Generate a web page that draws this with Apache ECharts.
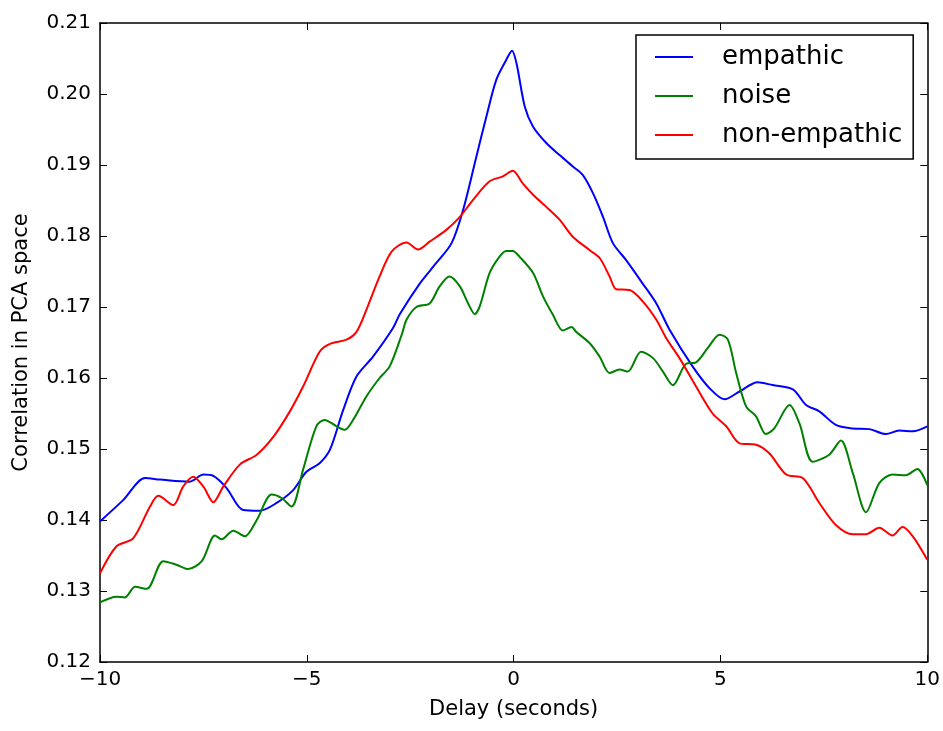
<!DOCTYPE html>
<html>
<head>
<meta charset="utf-8">
<script src="https://cdn.jsdelivr.net/npm/echarts@6/dist/echarts.min.js"></script>
<style>html,body{margin:0;padding:0;background:#fff}#c{width:943px;height:731px}</style>
</head>
<body>
<div id="c"></div>
<script>
const seriesNames = ['empathic', 'noise', 'non-empathic'];
const xTicks = [-10, -5, 0, 5, 10];
const yTicks = [0.12, 0.13, 0.14, 0.15, 0.16, 0.17, 0.18, 0.19, 0.20, 0.21];

const empathic = [
  [-10, 0.1398], [-9.44, 0.1428], [-8.91, 0.1459], [-8.55, 0.1457], [-7.83, 0.1454], [-7.5, 0.1464],
  [-7.26, 0.1462], [-6.94, 0.1445], [-6.54, 0.1414], [-6.14, 0.1413], [-5.73, 0.1424], [-5.33, 0.1442],
  [-5.01, 0.1468], [-4.69, 0.1480], [-4.44, 0.1499], [-4.12, 0.1555], [-3.8, 0.1602], [-3.4, 0.1630],
  [-2.92, 0.1670], [-2.75, 0.1690], [-2.27, 0.1733], [-1.87, 0.1762], [-1.50, 0.1790], [-1.22, 0.1837],
  [-0.90, 0.1912], [-0.66, 0.1968], [-0.42, 0.2020], [-0.18, 0.2048], [-0.04, 0.2061], [0.07, 0.2043],
  [0.27, 0.1982], [0.47, 0.1954], [0.79, 0.1931], [1.11, 0.1914], [1.43, 0.1898], [1.67, 0.1886],
  [1.92, 0.1860], [2.16, 0.1827], [2.40, 0.1790], [2.72, 0.1766], [3.12, 0.1733], [3.45, 0.1705],
  [3.77, 0.1668], [4.33, 0.1616], [4.73, 0.1586], [5.10, 0.1570], [5.46, 0.1581], [5.90, 0.1594],
  [6.26, 0.1590], [6.75, 0.1584], [7.07, 0.1562], [7.39, 0.1553], [7.79, 0.1534], [8.20, 0.1529],
  [8.60, 0.1528], [9.00, 0.1521], [9.32, 0.1526], [9.65, 0.1525], [10, 0.1532]
];

const noise = [
  [-10, 0.1284], [-9.6, 0.1292], [-9.40, 0.1291], [-9.15, 0.1306], [-8.87, 0.1303], [-8.47, 0.1342],
  [-8.15, 0.1337], [-7.87, 0.1331], [-7.54, 0.1342], [-7.22, 0.1378], [-7.06, 0.1373], [-6.78, 0.1385],
  [-6.50, 0.1377], [-6.21, 0.1400], [-5.85, 0.1436], [-5.61, 0.1431], [-5.37, 0.1419], [-5.09, 0.1471],
  [-4.77, 0.1532], [-4.57, 0.1541], [-4.28, 0.1532], [-4.08, 0.1527], [-3.88, 0.1541], [-3.56, 0.1574],
  [-3.24, 0.1600], [-3.0, 0.1616], [-2.7, 0.1662], [-2.59, 0.1682], [-2.35, 0.1700], [-2.03, 0.1705],
  [-1.79, 0.1729], [-1.55, 0.1743], [-1.30, 0.1729], [-1.10, 0.1705], [-0.94, 0.1690], [-0.82, 0.1701],
  [-0.58, 0.1748], [-0.34, 0.1771], [-0.18, 0.1779], [-0.02, 0.1779], [0.14, 0.1771], [0.47, 0.1748],
  [0.71, 0.1715], [0.95, 0.1689], [1.19, 0.1667], [1.40, 0.1672], [1.51, 0.1665], [1.84, 0.1649],
  [2.08, 0.1630], [2.32, 0.1607], [2.56, 0.1612], [2.76, 0.1609], [3.08, 0.1637], [3.37, 0.1628],
  [3.61, 0.1609], [3.85, 0.1590], [4.17, 0.1620], [4.41, 0.1622], [4.69, 0.1642], [4.98, 0.1661],
  [5.18, 0.1654], [5.38, 0.1607], [5.62, 0.1560], [5.86, 0.1546], [6.10, 0.1521], [6.30, 0.1529],
  [6.67, 0.1562], [6.91, 0.1536], [7.23, 0.1482], [7.63, 0.1492], [7.91, 0.1512], [8.20, 0.1466],
  [8.52, 0.1411], [8.84, 0.1452], [9.16, 0.1464], [9.48, 0.1463], [9.76, 0.1472], [10, 0.1449]
];

const nonEmpathic = [
  [-10, 0.1325], [-9.6, 0.1363], [-9.2, 0.1374], [-8.79, 0.1419], [-8.59, 0.1434], [-8.23, 0.1421],
  [-7.99, 0.1447], [-7.75, 0.1461], [-7.5, 0.1447], [-7.26, 0.1425], [-7.02, 0.1447], [-6.62, 0.1478],
  [-6.21, 0.1492], [-5.81, 0.1517], [-5.41, 0.1553], [-5.09, 0.1588], [-4.69, 0.1637], [-4.44, 0.1648],
  [-4.04, 0.1654], [-3.8, 0.1665], [-3.56, 0.1696], [-3.24, 0.1743], [-2.95, 0.1778], [-2.59, 0.1791],
  [-2.31, 0.1781], [-2.03, 0.1792], [-1.62, 0.1809], [-1.30, 0.1827], [-0.98, 0.1851], [-0.58, 0.1877],
  [-0.26, 0.1884], [-0.02, 0.1892], [0.22, 0.1874], [0.47, 0.1858], [0.79, 0.1841], [1.11, 0.1823],
  [1.43, 0.1799], [1.84, 0.1780], [2.08, 0.1769], [2.32, 0.1743], [2.48, 0.1725], [2.80, 0.1724],
  [3.12, 0.1708], [3.45, 0.1682], [3.69, 0.1656], [4.01, 0.1628], [4.41, 0.1588], [4.81, 0.1550],
  [5.14, 0.1532], [5.46, 0.1508], [5.86, 0.1506], [6.18, 0.1494], [6.59, 0.1464], [6.99, 0.1459],
  [7.39, 0.1424], [7.79, 0.1393], [8.20, 0.1380], [8.52, 0.1380], [8.84, 0.1389], [9.16, 0.1378],
  [9.40, 0.1390], [9.65, 0.1377], [10, 0.1344]
];

const colors = ['#0000ff', '#008000', '#ff0000'];
const FONT = 'DejaVu Sans';
const fmtX = v => String(v).replace('-', '\u2212');
const fmtY = v => v.toFixed(2);

const chart = echarts.init(document.getElementById('c'), null, {renderer: 'canvas'});

const tickStyle = {show: true, inside: true, length: 7, lineStyle: {color: '#000', width: 1}};
const lineAxis = {show: true, onZero: false, lineStyle: {color: '#000', width: 1.5}};

chart.setOption({
  animation: false,
  backgroundColor: '#fff',
  grid: {left: 100, right: 15, top: 23, bottom: 69, containLabel: false},
  legend: {
    data: seriesNames,
    orient: 'vertical',
    left: 636, top: 35,
    padding: [9, 11, 11, 19],
    icon: 'rect',
    itemWidth: 38, itemHeight: 2, itemGap: 13,
    borderColor: '#000', borderWidth: 1.5, borderRadius: 0,
    backgroundColor: '#fff',
    textStyle: {fontFamily: FONT, fontSize: 26, color: '#000', lineHeight: 26, padding: [0, 0, 0, 24]}
  },
  xAxis: [{
    type: 'value', min: xTicks[0], max: xTicks[xTicks.length - 1], interval: 5,
    axisLine: lineAxis, axisTick: tickStyle, splitLine: {show: false},
    axisLabel: {formatter: fmtX, fontFamily: FONT, fontSize: 20, color: '#000', margin: 8},
    name: 'Delay (seconds)', nameLocation: 'middle', nameGap: 37,
    nameTextStyle: {fontFamily: FONT, fontSize: 21, color: '#000'}
  }, {
    type: 'value', position: 'top', min: xTicks[0], max: xTicks[xTicks.length - 1], interval: 5,
    axisLine: lineAxis, axisTick: tickStyle, axisLabel: {show: false}, splitLine: {show: false}
  }],
  yAxis: [{
    type: 'value', min: yTicks[0], max: yTicks[yTicks.length - 1], interval: 0.01,
    axisLine: lineAxis, axisTick: tickStyle, splitLine: {show: false},
    axisLabel: {formatter: fmtY, fontFamily: FONT, fontSize: 20, color: '#000', margin: 9},
    name: 'Correlation in PCA space', nameLocation: 'middle', nameGap: 68, nameRotate: 90,
    nameTextStyle: {fontFamily: FONT, fontSize: 21, color: '#000'}
  }, {
    type: 'value', position: 'right', min: yTicks[0], max: yTicks[yTicks.length - 1], interval: 0.01,
    axisLine: lineAxis, axisTick: tickStyle, axisLabel: {show: false}, splitLine: {show: false}
  }],
  series: [
    {name: seriesNames[0], type: 'line', data: empathic, color: colors[0]},
    {name: seriesNames[1], type: 'line', data: noise, color: colors[1]},
    {name: seriesNames[2], type: 'line', data: nonEmpathic, color: colors[2]}
  ].map(s => Object.assign(s, {
    symbol: 'none', showSymbol: false, smooth: 0.3,
    lineStyle: {width: 2, color: s.color}, itemStyle: {color: s.color}, z: 2
  }))
});
</script>
</body>
</html>
